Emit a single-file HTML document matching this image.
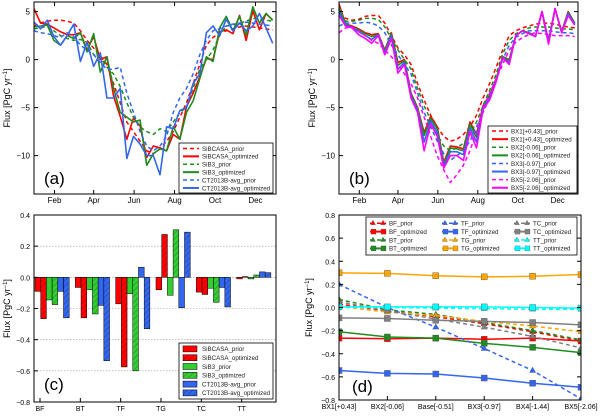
<!DOCTYPE html>
<html><head><meta charset="utf-8">
<style>
body{margin:0;background:#fff;width:600px;height:412px;overflow:hidden;font-family:"Liberation Sans",sans-serif}
svg text{font-family:"Liberation Sans",sans-serif}
</style></head>
<body>
<svg id="fig" width="600" height="412" viewBox="0 0 600 412" xmlns="http://www.w3.org/2000/svg">
<defs>
<pattern id="hatch" patternUnits="userSpaceOnUse" width="4" height="4" patternTransform="rotate(45)">
<line x1="0" y1="0" x2="0" y2="4" stroke="#000" stroke-width="0.6" opacity="0.6"/>
</pattern>
</defs>
</svg>
<script>
// ---------- data panel (a) ----------
const days = [0,10,20,30,40,50,60,70,80,90,100,110,120,130,140,150,160,170,180,190,200,210,220,230,240,250,260,270,280,290,300,310,320,330,340,350,360];
const sibcasaPrior = [3.5,3.8,4.0,4.1,4.1,4.0,3.8,3.0,2.0,1.2,0.4,-0.5,-2.5,-4.5,-6.5,-7.5,-8.5,-9.5,-9.8,-9.3,-8.5,-7.5,-6.0,-4.5,-2.5,-0.5,1.5,2.3,2.8,3.0,3.2,3.4,3.5,3.4,3.3,3.2,3.1];
const sibcasaOpt = [5.3,3.8,3.7,3.3,2.9,2.6,2.6,2.8,1.0,2.4,0.0,0.3,-3.8,-5.9,-8.3,-6.1,-6.9,-10.2,-9.0,-9.2,-9.5,-7.8,-8.3,-4.9,-3.5,-1.8,0.1,0.0,2.9,3.1,2.7,4.6,2.0,5.1,3.1,4.8,4.1];
const sib3Prior = [3.2,3.3,3.5,3.0,2.5,2.2,2.0,2.1,1.8,0.5,0.3,-0.8,-1.5,-2.8,-4.5,-6.0,-7.0,-7.5,-7.8,-7.2,-7.5,-6.5,-5.5,-5.0,-3.0,-1.0,0.0,1.0,2.5,3.5,3.6,3.8,4.0,4.3,4.2,4.1,4.0];
const sib3Opt = [3.4,3.5,3.6,2.0,1.5,2.5,2.2,2.8,0.8,2.7,-1.3,0.3,-3.0,-5.5,-6.0,-6.5,-6.3,-11.0,-9.8,-9.3,-9.5,-7.0,-8.3,-5.5,-4.3,-2.0,0.3,-0.2,3.3,4.5,3.0,4.5,2.5,5.5,3.8,4.8,4.1];
const ctPrior = [3.0,2.8,2.7,2.5,2.3,2.8,2.4,1.5,1.0,0.5,-0.3,-1.0,-1.0,-0.8,-3.5,-5.5,-7.5,-9.0,-9.5,-9.0,-8.0,-5.5,-4.0,-3.0,-1.5,0.5,2.0,3.0,3.2,3.5,3.7,3.8,3.9,3.8,3.7,3.6,3.5];
const ctOpt = [3.9,3.2,4.1,2.4,1.5,2.5,3.7,-0.2,1.8,-0.7,0.7,-4.0,-4.0,-3.0,-10.3,-8.0,-8.8,-10.0,-10.0,-12.0,-7.0,-7.2,-5.3,-5.0,-2.5,-1.5,2.8,3.5,2.5,4.2,3.0,3.8,3.0,3.5,4.8,3.3,1.7];
// ---------- data panel (b) ----------
const bx1Prior = [4.8,4.3,4.1,4.2,4.5,4.6,4.6,3.8,2.5,1.2,0.5,-0.5,-2.5,-4.2,-5.8,-7.0,-8.0,-8.5,-8.3,-7.8,-7.0,-5.8,-4.0,-2.5,-0.8,1.0,2.5,3.0,3.3,3.5,3.7,3.8,3.8,3.7,3.5,3.4,3.3];
const bx1Opt = [5.8,3.7,3.5,3.2,2.8,2.6,2.7,1.0,2.8,-0.3,0.0,-3.5,-5.0,-7.6,-5.9,-7.0,-10.7,-9.0,-9.1,-9.3,-6.5,-7.8,-4.8,-3.7,-2.0,0.3,0.0,2.5,3.0,2.8,2.4,5.0,2.0,5.3,2.9,5.0,3.8];
const bx2Prior = [4.5,4.0,4.0,4.1,4.3,4.3,4.2,3.4,2.2,1.0,0.0,-1.0,-3.0,-4.8,-6.3,-7.8,-9.0,-9.5,-9.2,-8.7,-7.8,-6.5,-4.8,-3.2,-1.5,0.6,2.0,2.7,3.0,3.3,3.4,3.4,3.4,3.3,3.2,3.2,3.1];
const bx2Opt = [5.5,3.7,3.4,3.1,2.7,2.4,2.6,0.9,2.7,-0.6,-0.1,-3.6,-5.1,-7.9,-6.1,-7.2,-10.9,-9.2,-9.3,-9.5,-6.7,-8.1,-4.9,-3.8,-2.1,0.3,-0.1,2.5,3.0,2.8,2.4,5.0,1.9,5.3,2.9,4.9,3.8];
const bx3Prior = [3.5,3.8,3.8,3.8,3.9,3.8,3.5,2.8,1.5,0.5,-0.5,-1.5,-3.5,-5.5,-7.0,-8.5,-9.8,-10.5,-10.0,-9.5,-8.5,-7.0,-5.5,-4.0,-2.0,0.0,1.5,2.3,2.7,3.0,3.0,3.0,3.0,2.9,2.8,2.8,2.7];
const bx3Opt = [5.0,3.6,3.4,2.9,2.5,2.1,2.6,0.7,2.5,-1.0,-0.3,-3.8,-5.3,-8.6,-6.4,-7.6,-11.1,-9.6,-9.6,-9.9,-7.1,-8.6,-5.0,-4.0,-2.2,0.2,-0.3,2.5,3.0,2.7,2.4,5.0,1.8,5.3,2.8,4.8,3.7];
const bx5Prior = [2.8,3.3,3.4,3.0,2.5,2.0,1.7,1.0,0.3,-0.5,-1.5,-2.5,-4.0,-6.0,-8.0,-10.0,-11.5,-12.8,-12.0,-11.0,-9.5,-7.5,-5.0,-3.5,-2.0,-0.5,1.0,1.8,2.3,2.6,2.8,2.7,2.6,2.5,2.5,2.5,2.4];
const bx5Opt = [4.6,3.5,3.3,2.6,2.2,1.7,2.5,0.5,2.2,-1.4,-0.5,-4.0,-5.5,-9.5,-6.7,-8.0,-11.3,-10.0,-10.0,-10.5,-7.5,-9.2,-5.2,-4.2,-2.3,0.2,-0.5,2.5,3.0,2.7,2.4,5.0,1.6,5.3,2.8,4.6,3.6];
const monthTicks = [31,90,151,212,273,334];
const monthLabels = ["Feb","Apr","Jun","Aug","Oct","Dec"];
const fluxTicks = [5,0,-5,-10];
const fluxTickLabels = ["5","0","\u22125","\u221210"];
// ---------- data panel (c) ----------
const biomes = ["BF","BT","TF","TG","TC","TT"];
const cSibcasaPrior = [-0.09,-0.065,-0.17,-0.08,-0.095,-0.01];
const cSibcasaOpt = [-0.265,-0.26,-0.575,0.275,-0.11,0.005];
const cSib3Prior = [-0.145,-0.08,-0.105,-0.115,-0.07,-0.01];
const cSib3Opt = [-0.175,-0.235,-0.6,0.305,-0.16,0.015];
const cCtPrior = [-0.09,-0.18,0.065,-0.195,-0.065,0.035];
const cCtOpt = [-0.26,-0.535,-0.33,0.29,-0.19,0.03];
const cTicks = [0.4,0.2,0.0,-0.2,-0.4,-0.6,-0.8];
const cTickLabels = ["0.4","0.2","0.0","\u22120.2","\u22120.4","\u22120.6","\u22120.8"];
// ---------- data panel (d) ----------
const scenarios = ["BX1[+0.43]","BX2[-0.06]","Base[-0.51]","BX3[-0.97]","BX4[-1.44]","BX5[-2.06]"];
const bfPrior = [0.03,-0.03,-0.08,-0.14,-0.21,-0.29];
const bfOpt = [-0.265,-0.27,-0.265,-0.275,-0.265,-0.29];
const btPrior = [0.07,-0.02,-0.06,-0.13,-0.2,-0.28];
const btOpt = [-0.21,-0.255,-0.265,-0.31,-0.345,-0.39];
const tfPrior = [0.2,0.0,-0.17,-0.355,-0.545,-0.79];
const tfOpt = [-0.545,-0.57,-0.575,-0.61,-0.655,-0.69];
const tgPrior = [0.01,-0.04,-0.07,-0.12,-0.16,-0.21];
const tgOpt = [0.3,0.295,0.275,0.265,0.27,0.285];
const tcPrior = [0.05,-0.03,-0.1,-0.17,-0.25,-0.35];
const tcOpt = [-0.09,-0.095,-0.11,-0.12,-0.13,-0.15];
const ttPrior = [0.0,0.0,-0.005,-0.01,-0.015,-0.015];
const ttOpt = [0.005,0.005,0.005,0.005,0.0,-0.005];
const dTicks = [0.8,0.6,0.4,0.2,0.0,-0.2,-0.4,-0.6,-0.8];
const dTickLabels = ["0.8","0.6","0.4","0.2","0.0","\u22120.2","\u22120.4","\u22120.6","\u22120.8"];

const NS="http://www.w3.org/2000/svg";
const svg=document.getElementById('fig');
function mk(tag,attrs,parent,text){const e=document.createElementNS(NS,tag);for(const k in attrs)e.setAttribute(k,attrs[k]);if(text!==undefined)e.textContent=text;(parent||svg).appendChild(e);return e;}
const RED="#ff0000",GREEN="#1e8c1e",BLUE="#3366ee",MAG="#ff00ff",ORANGE="#ffa500",GRAY="#808080",CYAN="#00ffff";

function makeAxes(name){
  const g=mk('g',{});
  
  
  return g;
}
function frame(g,x0,x1,y0,y1){
  const r=mk('rect',{x:x0,y:y0,width:x1-x0,height:y1-y0,fill:'none',stroke:'#000','stroke-width':1},g);
  
  
}
function ylabel(g,x,yc){
  const t=mk('text',{x:x,y:yc,'font-size':9,'text-anchor':'middle',transform:`rotate(-90 ${x} ${yc})`},g);
  
  
  t.appendChild(document.createTextNode('Flux [PgC yr'));
  mk('tspan',{'baseline-shift':'super','font-size':6},t,'\u22121');
  mk('tspan',{},t,']');
}
function panelLabel(g,x,y,txt){
  const t=mk('text',{x:x,y:y,'font-size':17},g,txt);
  
  
}
function legend(g,x,y,w,h,items,cols,colW,rowH,fs,pad){
  const lg=mk('g',{},g);
  
  
  mk('rect',{x:x,y:y,width:w,height:h,fill:'#fff',stroke:'#000','stroke-width':0.8},lg);
  const nr=Math.ceil(items.length/cols);
  items.forEach((it,i)=>{
    const c=Math.floor(i/nr),r=i%nr;
    const ex=x+4+c*colW,ey=y+pad+r*rowH+rowH/2;
    const e=mk('g',{},lg);
    
    
    if(it.type==='bar'){
      mk('rect',{x:ex,y:ey-3,width:14,height:6,fill:it.color,stroke:'#000','stroke-width':0.5},e);
      if(it.hatch)mk('rect',{x:ex,y:ey-3,width:14,height:6,fill:'url(#hatch)'},e);
    }else{
      mk('line',{x1:ex,y1:ey,x2:ex+16,y2:ey,stroke:it.color,'stroke-width':it.dash?1.5:2,'stroke-dasharray':it.dash?'4,3':''},e);
      if(it.marker==='tri'){mk('path',{d:`M${ex+3},${ey-3}l2.5,4.5h-5z M${ex+13},${ey-3}l2.5,4.5h-5z`,fill:it.color,stroke:'#555','stroke-width':0.3},e);}
      if(it.marker==='sq'){mk('rect',{x:ex+1,y:ey-2.5,width:5,height:5,fill:it.color,stroke:'#555','stroke-width':0.3},e);mk('rect',{x:ex+11,y:ey-2.5,width:5,height:5,fill:it.color,stroke:'#555','stroke-width':0.3},e);}
    }
    mk('text',{x:ex+19,y:ey+2.3,'font-size':fs,fill:'#222'},e,it.label);
  });
}

function timePanel(name,x0,x1,y0,y1,series,letter,legItems,legBox){
  const g=makeAxes(name);
  const sx=d=>x0+(d/365)*(x1-x0);
  const sy=v=>y0+(6-v)/20*(y1-y0);
  const clip=mk('clipPath',{id:'clip'+name},g);
  mk('rect',{x:x0,y:y0,width:x1-x0,height:y1-y0},clip);
  const lines=mk('g',{'clip-path':`url(#clip${name})`},g);
  series.forEach(s=>{
    const p=mk('polyline',{points:s.vals.map((v,i)=>sx(days[i])+','+sy(v)).join(' '),fill:'none',stroke:s.color,'stroke-width':s.dash?1.5:1.6,'stroke-dasharray':s.dash?'4,3':'','stroke-linejoin':'round'},lines);
    
    
  });
  frame(g,x0,x1,y0,y1);
  fluxTicks.forEach((v,i)=>{
    mk('line',{x1:x0,y1:sy(v),x2:x0+4,y2:sy(v),stroke:'#000'},g);
    mk('line',{x1:x1,y1:sy(v),x2:x1-4,y2:sy(v),stroke:'#000'},g);
    const t=mk('text',{x:x0-4,y:sy(v)+3,'font-size':8,'text-anchor':'end'},g,fluxTickLabels[i]);
    
    
  });
  monthTicks.forEach((d,i)=>{
    mk('line',{x1:sx(d),y1:y1,x2:sx(d),y2:y1-4,stroke:'#000'},g);
    mk('line',{x1:sx(d),y1:y0,x2:sx(d),y2:y0+4,stroke:'#000'},g);
    const t=mk('text',{x:sx(d),y:y1+9,'font-size':8,'text-anchor':'middle'},g,monthLabels[i]);
    
    
  });
  ylabel(g,x0-24,(y0+y1)/2);
  panelLabel(g,x0+10,y1-10,letter);
  legend(g,legBox[0],legBox[1],legBox[2],legBox[3],legItems,1,0,legBox[4],6.2,legBox[5]);
}
timePanel('panel-a',34,276,2,194,[
 {vals:sibcasaPrior,color:RED,dash:true,name:'sibcasa-prior-line'},
 {vals:sibcasaOpt,color:RED,dash:false,name:'sibcasa-optimized-line'},
 {vals:sib3Prior,color:GREEN,dash:true,name:'sib3-prior-line'},
 {vals:sib3Opt,color:GREEN,dash:false,name:'sib3-optimized-line'},
 {vals:ctPrior,color:BLUE,dash:true,name:'ct2013b-prior-line'},
 {vals:ctOpt,color:BLUE,dash:false,name:'ct2013b-optimized-line'}],'(a)',
 [{label:'SiBCASA_prior',color:RED,dash:true},{label:'SiBCASA_optimized',color:RED},{label:'SiB3_prior',color:GREEN,dash:true},{label:'SiB3_optimized',color:GREEN},{label:'CT2013B-avg_prior',color:BLUE,dash:true},{label:'CT2013B-avg_optimized',color:BLUE}],
 [179,143,94,50,7.9,1.5]);
timePanel('panel-b',339,578,2,194,[
 {vals:bx1Prior,color:RED,dash:true,name:'bx1-prior-line'},
 {vals:bx1Opt,color:RED,dash:false,name:'bx1-optimized-line'},
 {vals:bx2Prior,color:GREEN,dash:true,name:'bx2-prior-line'},
 {vals:bx2Opt,color:GREEN,dash:false,name:'bx2-optimized-line'},
 {vals:bx3Prior,color:BLUE,dash:true,name:'bx3-prior-line'},
 {vals:bx3Opt,color:BLUE,dash:false,name:'bx3-optimized-line'},
 {vals:bx5Prior,color:MAG,dash:true,name:'bx5-prior-line'},
 {vals:bx5Opt,color:MAG,dash:false,name:'bx5-optimized-line'}],'(b)',
 [{label:'BX1[+0.43]_prior',color:RED,dash:true},{label:'BX1[+0.43]_optimized',color:RED},{label:'BX2[-0.06]_prior',color:GREEN,dash:true},{label:'BX2[-0.06]_optimized',color:GREEN},{label:'BX3[-0.97]_prior',color:BLUE,dash:true},{label:'BX3[-0.97]_optimized',color:BLUE},{label:'BX5[-2.06]_prior',color:MAG,dash:true},{label:'BX5[-2.06]_optimized',color:MAG}],
 [488,126,89,67,8.1,1]);

// ---------- Panel C bars ----------
(function(){
  const x0=34,x1=276,y0=215,y1=402;
  const g=makeAxes('panel-c');
  const sy=v=>y0+(0.4-v)/1.2*(y1-y0);
  const gw=(x1-x0)/6, bw=5.7, gstart=i=>x0+1+i*gw;
  cTicks.forEach(v=>{ if(v<0.4&&v>-0.8) mk('line',{x1:x0,y1:sy(v),x2:x1,y2:sy(v),stroke:'#999','stroke-width':0.6,'stroke-dasharray':'1.5,1.5'},g); });
  const series=[[cSibcasaPrior,RED,false,'sibcasa-prior'],[cSibcasaOpt,RED,true,'sibcasa-optimized'],[cSib3Prior,'#33cc33',false,'sib3-prior'],[cSib3Opt,'#33cc33',true,'sib3-optimized'],[cCtPrior,BLUE,false,'ct2013b-prior'],[cCtOpt,BLUE,true,'ct2013b-optimized']];
  biomes.forEach((b,i)=>{
    series.forEach((s,j)=>{
      const v=s[0][i],x=gstart(i)+j*bw,ya=sy(Math.max(v,0)),yb=sy(Math.min(v,0));
      const r=mk('rect',{x:x,y:ya,width:bw,height:Math.max(yb-ya,0.5),fill:s[1],stroke:'#000','stroke-width':0.5},g);
      
      
      if(s[2])mk('rect',{x:x,y:ya,width:bw,height:Math.max(yb-ya,0.5),fill:'url(#hatch)'},g);
    });
    const tx=gstart(i)+5;
    mk('line',{x1:tx,y1:y1,x2:tx,y2:y1-4,stroke:'#000'},g);
    const t=mk('text',{x:tx,y:y1+9,'font-size':7,'text-anchor':'middle'},g,b);
    
    
  });
  frame(g,x0,x1,y0,y1);
  cTicks.forEach((v,i)=>{
    mk('line',{x1:x0,y1:sy(v),x2:x0+4,y2:sy(v),stroke:'#000'},g);
    const t=mk('text',{x:x0-4,y:sy(v)+3,'font-size':7,'text-anchor':'end'},g,cTickLabels[i]);
    
    
  });
  ylabel(g,x0-24,(y0+y1)/2);
  panelLabel(g,44,390,'(c)');
  legend(g,179,343,94,56,[{label:'SiBCASA_prior',color:RED,type:'bar'},{label:'SiBCASA_optimized',color:RED,type:'bar',hatch:1},{label:'SiB3_prior',color:'#33cc33',type:'bar'},{label:'SiB3_optimized',color:'#33cc33',type:'bar',hatch:1},{label:'CT2013B-avg_prior',color:BLUE,type:'bar'},{label:'CT2013B-avg_optimized',color:BLUE,type:'bar',hatch:1}],1,0,8.8,6.2,1.5);
})();

// ---------- Panel D ----------
(function(){
  const x0=339,x1=581,y0=215,y1=400;
  const g=makeAxes('panel-d');
  const sx=i=>x0+i*(x1-x0)/5;
  const sy=v=>y0+(0.8-v)/1.6*(y1-y0);
  const series=[
    [bfPrior,RED,true,'bf-prior'],[bfOpt,RED,false,'bf-optimized'],
    [btPrior,GREEN,true,'bt-prior'],[btOpt,GREEN,false,'bt-optimized'],
    [tfPrior,BLUE,true,'tf-prior'],[tfOpt,BLUE,false,'tf-optimized'],
    [tgPrior,ORANGE,true,'tg-prior'],[tgOpt,ORANGE,false,'tg-optimized'],
    [tcPrior,GRAY,true,'tc-prior'],[tcOpt,GRAY,false,'tc-optimized'],
    [ttPrior,CYAN,true,'tt-prior'],[ttOpt,CYAN,false,'tt-optimized']];
  const clip=mk('clipPath',{id:'clipd'},g);
  mk('rect',{x:x0,y:y0,width:x1-x0,height:y1-y0},clip);
  const L=mk('g',{'clip-path':'url(#clipd)'},g);
  series.forEach(s=>{
    const sg=mk('g',{},L);
    
    
    mk('polyline',{points:s[0].map((v,i)=>sx(i)+','+sy(v)).join(' '),fill:'none',stroke:s[1],'stroke-width':1.5,'stroke-dasharray':s[2]?'4,3':''},sg);
    s[0].forEach((v,i)=>{
      if(s[2]) mk('path',{d:`M${sx(i)},${sy(v)-3.5}l3.2,5.5h-6.4z`,fill:s[1],stroke:'#555','stroke-width':0.3},sg);
      else mk('rect',{x:sx(i)-3,y:sy(v)-3,width:6,height:6,fill:s[1],stroke:'#555','stroke-width':0.4},sg);
    });
  });
  frame(g,x0,x1,y0,y1);
  dTicks.forEach((v,i)=>{
    mk('line',{x1:x0,y1:sy(v),x2:x0+4,y2:sy(v),stroke:'#000'},g);
    mk('line',{x1:x1,y1:sy(v),x2:x1-4,y2:sy(v),stroke:'#000'},g);
    const t=mk('text',{x:x0-4,y:sy(v)+3,'font-size':7,'text-anchor':'end'},g,dTickLabels[i]);
    
    
  });
  scenarios.forEach((s,i)=>{
    mk('line',{x1:sx(i),y1:y1,x2:sx(i),y2:y1-4,stroke:'#000'},g);
    const t=mk('text',{x:sx(i),y:y1+9,'font-size':7,'text-anchor':'middle'},g,s);
    
    
  });
  ylabel(g,x0-27,(y0+y1)/2);
  panelLabel(g,352,392,'(d)');
  const items=[];
  [['BF',RED],['BT',GREEN],['TF',BLUE],['TG',ORANGE],['TC',GRAY],['TT',CYAN]].forEach(b=>{
    items.push({label:b[0]+'_prior',color:b[1],dash:true,marker:'tri'});
    items.push({label:b[0]+'_optimized',color:b[1],marker:'sq'});
  });
  legend(g,366,217,211,38,items,3,72,8.4,6.2,2);
})();
</script>
</body></html>
